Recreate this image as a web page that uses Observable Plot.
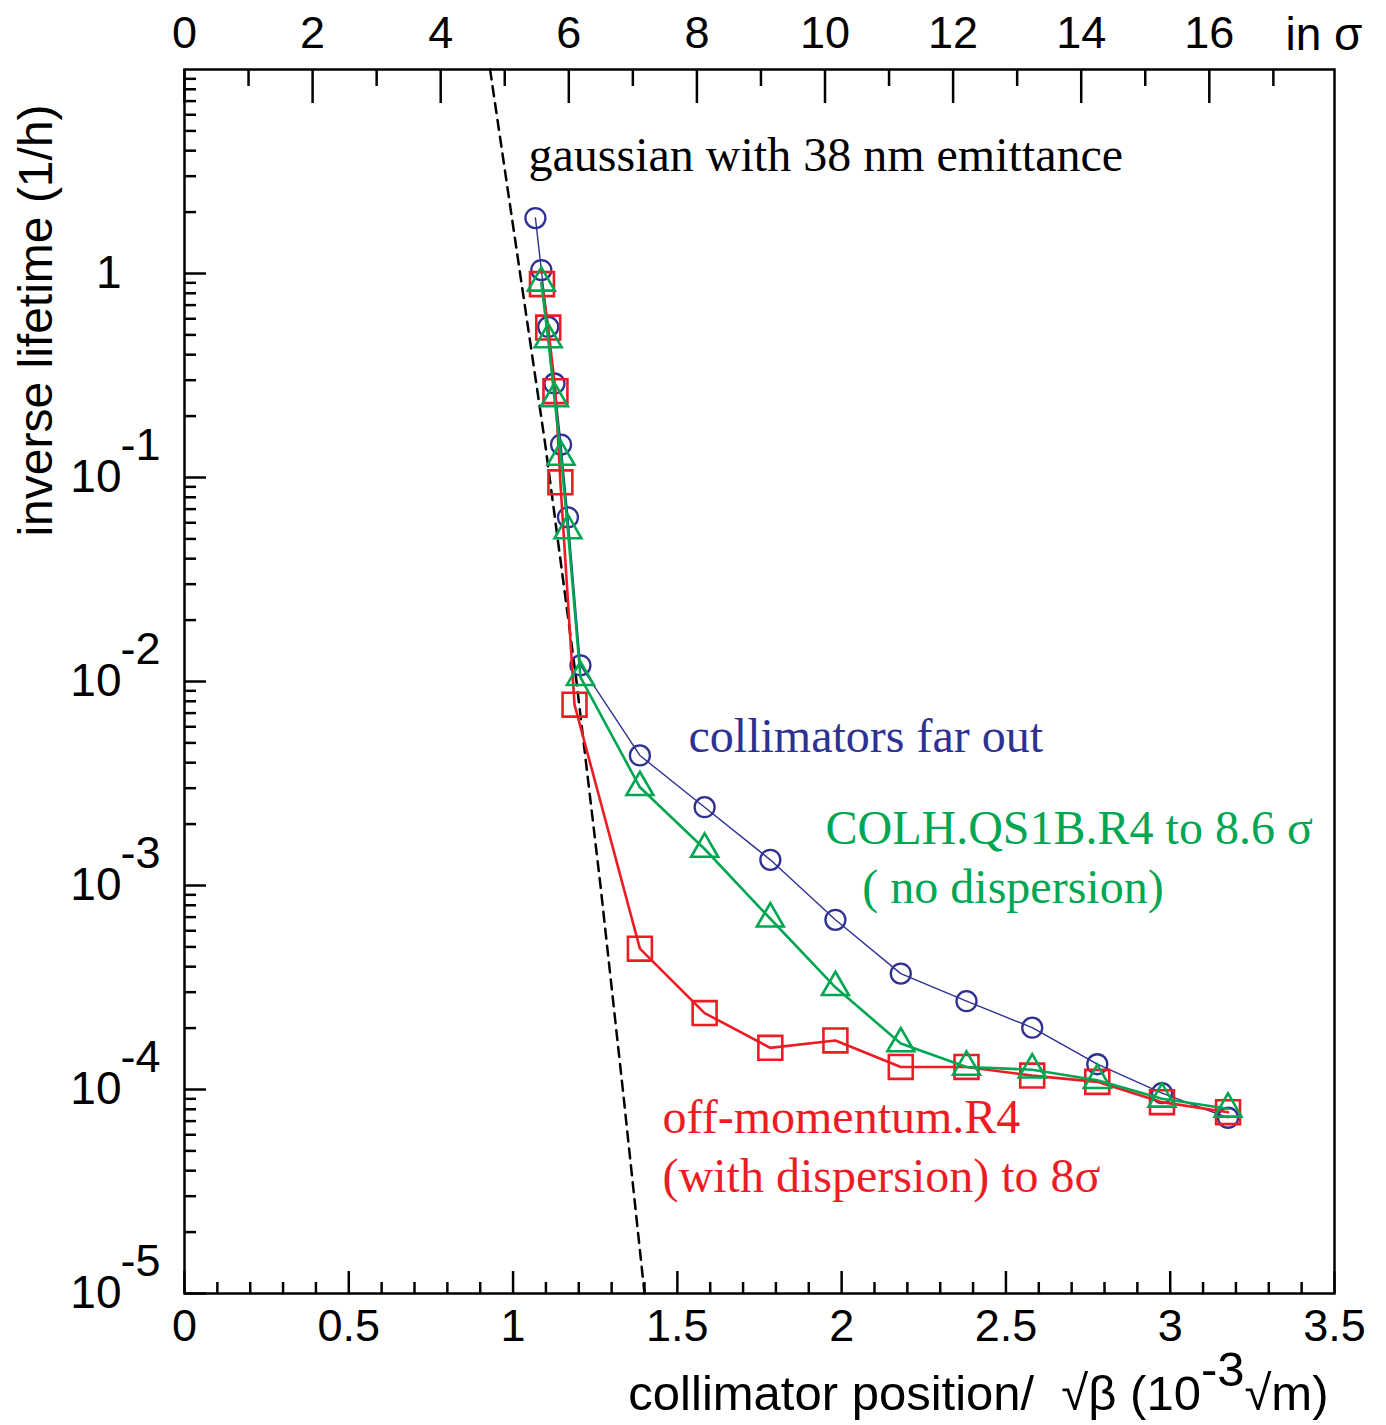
<!DOCTYPE html>
<html>
<head>
<meta charset="utf-8">
<script src="https://cdn.jsdelivr.net/npm/d3@7"></script>
<script src="https://cdn.jsdelivr.net/npm/@observablehq/plot@0.6"></script>
<style>
  html, body { margin: 0; padding: 0; background: #fff; }
  #chart svg { display: block; }
</style>
</head>
<body>
<div id="chart"></div>
<script>
// Collimator position in units of 1e-3 sqrt(m), inverse lifetime in 1/h

// collimators far out
const xFar = [1.068, 1.086, 1.107, 1.126, 1.146, 1.167, 1.205, 1.386, 1.583, 1.783, 1.981, 2.180, 2.380, 2.580, 2.778, 2.975, 3.176];
const yFar = [1.87, 1.04, 0.547, 0.289, 0.145, 0.0638, 0.0120, 0.00434, 0.00242, 0.001336, 0.000679, 0.000370, 0.000271, 0.000201, 0.000133, 0.0000959, 0.0000727];

// COLH.QS1B.R4 at 8.6 sigma (no dispersion)
const xQS1B = [1.086, 1.107, 1.126, 1.146, 1.167, 1.205, 1.386, 1.583, 1.783, 1.981, 2.180, 2.380, 2.580, 2.778, 2.975, 3.176];
const yQS1B = [0.90, 0.475, 0.244, 0.126, 0.055, 0.0105, 0.00303, 0.00151, 0.000687, 0.000317, 0.000168, 0.000129, 0.000125, 0.000111, 0.0000900, 0.0000804];

// off-momentum.R4 at 8 sigma (with dispersion)
const xR4 = [1.088, 1.107, 1.129, 1.144, 1.187, 1.386, 1.583, 1.783, 1.981, 2.180, 2.380, 2.580, 2.778, 2.975, 3.176];
const yR4 = [0.887, 0.543, 0.265, 0.0947, 0.0077, 0.000490, 0.000237, 0.000160, 0.000174, 0.000129, 0.000129, 0.000117, 0.000109, 0.0000867, 0.0000774];

// gaussian beam tail, 38 nm emittance
const xGauss = [0.930, 1.098, 1.193, 1.266, 1.334, 1.400];
const yGauss = [10, 0.145, 0.01, 0.001, 0.0001, 0.00001];

// axes
const xLabelTicks = [0, 0.5, 1, 1.5, 2, 2.5, 3, 3.5];
const xMinorTicks = d3.range(1, 35).map(i => i / 10).filter(v => Math.round(v * 10) % 5 !== 0);
const sigmaLabels = [0, 2, 4, 6, 8, 10, 12, 14, 16];
const sigmaMinor = [1, 3, 5, 7, 9, 11, 13, 15, 17];
const yDecades = [1e-5, 1e-4, 1e-3, 1e-2, 1e-1, 1];
const yMinorTicks = [1e-5, 1e-4, 1e-3, 1e-2, 1e-1, 1].flatMap(d => d3.range(2, 10).map(k => d * k));
const xTitleParts = ["collimator position/  \u221A\u03B2 (10", "-3", "\u221Am)"];
const yTitle = "inverse lifetime (1/h)";
const sigmaTitle = "in \u03C3";

// one sigma for 38 nm emittance, in 1e-3 sqrt(m)
const SIGMA = Math.sqrt(38e-9) * 1e3;

const BLUE = "#2e3192", GREEN = "#00a651", RED = "#ed1c24";
const SANS = "'Liberation Sans', Arial, Helvetica, sans-serif";
const SERIF = "'Liberation Serif', 'Times New Roman', serif";

const W = 1386, H = 1425;
const mL = 184, mR = 52, mT = 69, mB = 132;
const plotW = W - mL - mR, plotH = H - mT - mB;

const far = xFar.map((x, i) => ({x, y: yFar[i]}));
const qs1b = xQS1B.map((x, i) => ({x, y: yQS1B[i]}));
const r4 = xR4.map((x, i) => ({x, y: yR4[i]}));
const gauss = xGauss.map((x, i) => ({x, y: yGauss[i]}));

const labelPlacements = [
  {text: "gaussian with 38 nm emittance", x: 1.047, y: 3.8, fill: "black"},
  {text: "collimators far out", x: 1.534, y: 5.34e-3, fill: BLUE},
  {text: "COLH.QS1B.R4 to 8.6 \u03C3", x: 1.951, y: 1.89e-3, fill: GREEN},
  {text: "( no dispersion)", x: 2.063, y: 9.71e-4, fill: GREEN},
  {text: "off-momentum.R4", x: 1.455, y: 7.3e-5, fill: RED},
  {text: "(with dispersion) to 8\u03C3", x: 1.455, y: 3.75e-5, fill: RED}
];

const chart = Plot.plot({
  width: W,
  height: H,
  marginLeft: mL,
  marginRight: mR,
  marginTop: mT,
  marginBottom: mB,
  x: {domain: [0, 3.5]},
  y: {type: "log", domain: [1e-5, 10], axis: null},
  style: {fontFamily: SANS, fontSize: "45px", background: "white", color: "black", overflow: "visible"},
  marks: [
    // inward ticks, bottom axis
    Plot.tickX(xMinorTicks, {x: d => d, insetTop: plotH - 11, strokeWidth: 2.5}),
    Plot.tickX(xLabelTicks, {x: d => d, insetTop: plotH - 22, strokeWidth: 2.5}),
    // inward ticks, top sigma axis
    Plot.tickX(sigmaMinor, {x: s => s * SIGMA, insetBottom: plotH - 17, strokeWidth: 2.5}),
    Plot.tickX(sigmaLabels, {x: s => s * SIGMA, insetBottom: plotH - 34, strokeWidth: 2.5}),
    // inward ticks, left log axis
    Plot.tickY(yMinorTicks, {y: d => d, insetRight: plotW - 12, strokeWidth: 2.5}),
    Plot.tickY(yDecades, {y: d => d, insetRight: plotW - 22, strokeWidth: 2.5}),

    // tick labels
    Plot.axisX({anchor: "bottom", ticks: xLabelTicks, tickSize: 0, tickPadding: 16, label: null,
      tickFormat: d => String(d), fontSize: 45}),
    Plot.axisX({anchor: "top", ticks: sigmaLabels.map(s => s * SIGMA), tickSize: 0, tickPadding: 22, label: null,
      tickFormat: d => String(Math.round(d / SIGMA)), fontSize: 45}),
    Plot.text(yDecades, {y: d => d, frameAnchor: "left", dx: -63, textAnchor: "end",
      text: d => d === 1 ? "1" : "10", fontSize: 46}),
    Plot.text(yDecades.filter(d => d !== 1), {y: d => d, frameAnchor: "left", dx: -64, dy: -32, textAnchor: "start",
      text: d => String(Math.round(Math.log10(d))), fontSize: 45}),

    // axis titles
    Plot.text([sigmaTitle], {frameAnchor: "top-right", dx: -49, dy: -52, textAnchor: "start", fontSize: 46}),
    Plot.text([yTitle], {frameAnchor: "top-left", dx: -167, dy: 251, rotate: -90, textAnchor: "middle", fontSize: 48}),
    Plot.text([xTitleParts.join("")], {frameAnchor: "bottom-right", dx: -6, dy: 116, textAnchor: "end", fontSize: 49}),

    // gaussian tail
    Plot.line(gauss, {x: "x", y: "y", stroke: "black", strokeWidth: 2.5, strokeDasharray: "10,7"}),

    // collimators far out
    Plot.line(far, {x: "x", y: "y", stroke: BLUE, strokeWidth: 1.4}),
    Plot.dot(far, {x: "x", y: "y", symbol: "circle", r: 10, stroke: BLUE, strokeWidth: 2.3, fill: "none"}),

    // off-momentum collimator
    Plot.line(r4, {x: "x", y: "y", stroke: RED, strokeWidth: 2.6}),
    Plot.dot(r4, {x: "x", y: "y", symbol: "square", r: 13.5, stroke: RED, strokeWidth: 2.6, fill: "none"}),

    // COLH.QS1B.R4
    Plot.line(qs1b, {x: "x", y: "y", stroke: GREEN, strokeWidth: 2.6}),
    Plot.dot(qs1b, {x: "x", y: "y", symbol: "triangle", r: 10, stroke: GREEN, strokeWidth: 2.6, fill: "none"}),

    // series annotations
    Plot.text(labelPlacements, {x: "x", y: "y", text: "text", fill: "fill", textAnchor: "start",
      fontFamily: SERIF, fontSize: 48}),

    Plot.frame({strokeWidth: 2.5})
  ]
});

// superscript exponent in the x-axis title
const joined = xTitleParts.join("");
for (const t of chart.querySelectorAll("text")) {
  if (t.textContent === joined) {
    t.textContent = "";
    const ns = "http://www.w3.org/2000/svg";
    const a = document.createElementNS(ns, "tspan");
    a.textContent = xTitleParts[0];
    const b = document.createElementNS(ns, "tspan");
    b.textContent = xTitleParts[1];
    b.setAttribute("dy", "-24");
    const c = document.createElementNS(ns, "tspan");
    c.textContent = xTitleParts[2];
    c.setAttribute("dy", "24");
    t.append(a, b, c);
  }
}

document.getElementById("chart").append(chart);
</script>
</body>
</html>
